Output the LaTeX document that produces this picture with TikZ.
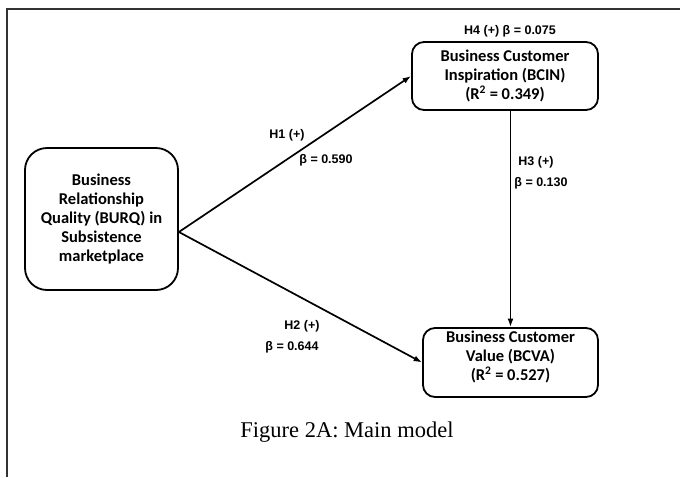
\documentclass[tikz,border=0pt]{standalone}
\usepackage{fontspec}
\setmainfont{Liberation Serif}
\newfontfamily\boxfont{Carlito}
\newfontfamily\labelfont{Liberation Sans}
\usetikzlibrary{arrows.meta,positioning}

\begin{document}
\begin{tikzpicture}[
  x=1pt, y=-1pt,
  modelbox/.style={draw, line width=1.8pt, rounded corners=12pt, inner sep=0pt, align=center,
    font=\boxfont\bfseries\fontsize{16.5}{19}\selectfont},
  coef/.style={inner sep=0pt, font=\labelfont\bfseries\fontsize{12.5}{14}\selectfont},
  path/.style={line width=1.7pt, -{Latex[length=8.5pt,width=6pt]}}
]
\useasboundingbox (0,0) rectangle (680,477);

% frame
\draw[line width=2pt, black!80] (680,8.5) -- (7,8.5) -- (7,477);

\node[modelbox, minimum width=153, minimum height=142, rounded corners=22pt] (burq) at (101.5,219)
  {Business\\Relationship\\Quality (BURQ) in\\Subsistence\\marketplace};
\node[modelbox, minimum width=186, minimum height=68] (bcin) at (505,76)
  {Business Customer\\Inspiration (BCIN)\\(R\textsuperscript{2} = 0.349)};
\node[modelbox, minimum width=175, minimum height=69] (bcva) at (510.5,362.5) {};
\node[modelbox, draw=none] (bcvatext) at ([yshift=5.5pt]bcva.center)
  {Business Customer\\Value (BCVA)\\(R\textsuperscript{2} = 0.527)};

\coordinate (burqout) at ([yshift=-13pt]burq.east);

\draw[path] (burqout) -- (bcin.west);
\draw[path] (burqout) -- (bcva.west);
\draw[path] (bcin.south -| bcva.north) -- (bcva.north);

\node[coef] (h4) at (510,31) {H4 (+) β = 0.075};
\node[coef] (h1) at (287,135) {H1 (+)};
\node[coef] (b1) at (326,160) {β = 0.590};
\node[coef] (h3) at (536,162) {H3 (+)};
\node[coef] (b3) at (541,183) {β = 0.130};
\node[coef] (h2) at (302,326) {H2 (+)};
\node[coef] (b2) at (292,347) {β = 0.644};

\node[font=\fontsize{22.5}{26}\selectfont] (caption) at (347,432) {Figure 2A: Main model};

\end{tikzpicture}
\end{document}
